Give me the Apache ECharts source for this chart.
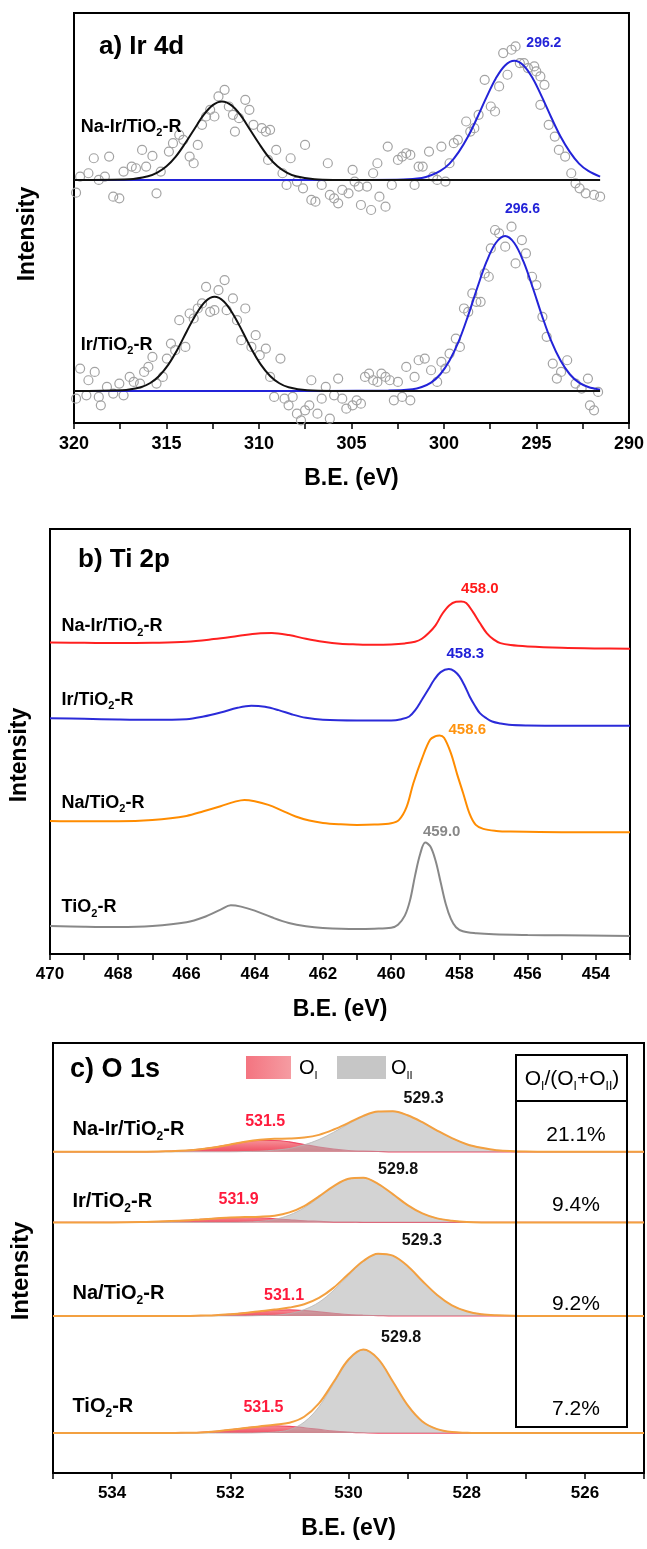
<!DOCTYPE html>
<html>
<head>
<meta charset="utf-8">
<title>XPS Ir 4d / Ti 2p / O 1s</title>
<script src="https://cdn.jsdelivr.net/npm/echarts@6.0.0/dist/echarts.min.js"></script>
<style>
html, body { margin: 0; padding: 0; background: #fff; }
#main { width: 647px; height: 1549px; }
</style>
</head>
<body>
<div id="main"></div>
<script>
// ---------- data: a) Ir 4d (B.E. eV, intensity a.u.) ----------
var irNames = ['Na-Ir/TiO2-R', 'Ir/TiO2-R'];
var irPeaks = ['296.2', '296.6'];

var irRawNaIr = [[319.89,690],[319.67,738],[319.22,748],[318.93,793],[318.66,728],[318.33,738],[318.10,798],[317.88,678],[317.55,673],[317.32,753],[316.88,768],[316.65,763],[316.32,818],[316.10,768],[315.76,800],[315.54,688],[315.31,753],[314.87,813],[314.65,838],[314.31,863],[314.09,848],[313.75,798],[313.53,778],[313.31,833],[313.08,893],[312.86,918],[312.64,938],[312.41,918],[312.19,978],[311.86,998],[311.63,948],[311.41,923],[311.30,873],[311.08,913],[310.74,968],[310.52,938],[310.30,893],[309.85,883],[309.63,873],[309.40,878],[309.51,788],[309.07,818],[308.73,748],[308.51,713],[308.29,793],[307.95,723],[307.62,703],[307.51,833],[307.17,668],[306.95,663],[306.61,713],[306.28,778],[306.17,683],[305.94,673],[305.72,658],[305.50,698],[305.16,688],[304.94,758],[304.83,723],[304.61,708],[304.49,653],[304.16,708],[303.94,638],[303.83,748],[303.60,778],[303.49,678],[303.16,648],[303.04,828],[302.82,713],[302.49,788],[302.26,798],[302.04,808],[301.82,803],[301.59,713],[301.37,768],[301.15,768],[300.81,813],[300.59,738],[300.37,728],[300.14,828],[299.92,723],[299.70,778],[299.47,838],[299.25,848],[298.80,903],[298.58,873],[298.36,883],[298.13,923],[297.80,1028],[297.47,948],[297.24,933],[297.02,1008],[296.80,1108],[296.57,1043],[296.35,1118],[296.13,1128],[295.90,1078],[295.68,1078],[295.46,1063],[295.12,1068],[295.01,1053],[294.79,1038],[294.57,1013],[294.79,953],[294.34,893],[294.01,858],[293.79,818],[293.45,798],[293.12,748],[292.89,718],[292.67,703],[292.34,688],[291.89,683],[291.56,678]];

var irRawIr = [[319.89,73],[319.67,163],[319.33,83],[319.22,128],[318.88,153],[318.66,78],[318.55,53],[318.22,108],[317.88,88],[317.55,118],[317.32,83],[316.99,138],[316.77,123],[316.43,118],[316.21,153],[315.98,168],[315.76,198],[315.54,118],[315.20,138],[314.98,193],[314.76,238],[314.53,218],[314.31,308],[313.98,228],[313.75,328],[313.53,313],[313.31,343],[313.08,358],[312.86,408],[312.64,333],[312.41,338],[312.19,398],[311.86,428],[311.75,338],[311.41,373],[311.19,308],[310.96,248],[310.74,343],[310.41,228],[310.18,263],[309.96,203],[309.63,223],[309.40,138],[309.18,78],[308.84,193],[308.62,73],[308.40,53],[308.18,78],[307.95,28],[307.73,8],[307.51,38],[307.28,53],[307.17,128],[306.84,28],[306.61,73],[306.39,108],[306.17,13],[305.94,83],[305.72,133],[305.50,73],[305.28,43],[304.94,53],[304.72,68],[304.49,58],[304.27,138],[304.05,148],[303.83,128],[303.60,123],[303.38,148],[303.16,138],[302.93,128],[302.71,68],[302.49,123],[302.26,78],[302.04,168],[301.82,68],[301.59,138],[301.37,188],[301.04,193],[300.70,158],[300.37,123],[300.14,183],[299.92,163],[299.70,208],[299.36,253],[299.14,228],[298.92,343],[298.69,333],[298.47,388],[298.25,363],[298.02,363],[297.80,448],[297.58,438],[297.47,523],[297.24,578],[297.02,568],[296.69,528],[296.35,588],[296.13,478],[295.79,548],[295.57,508],[295.24,438],[295.01,413],[294.68,318],[294.45,258],[294.12,178],[293.90,133],[293.67,153],[293.34,188],[292.89,118],[292.56,103],[292.22,133],[292.11,53],[291.89,38],[291.67,93]];

var irFitNaIrBlack = [[320,728],[317,730],[316,739],[315.5,750],[315,769],[314.5,798],[314,837],[313.5,880],[313,922],[312.5,952],[312,963],[311.5,952],[311,922],[310.5,880],[310,837],[309.5,798],[309,769],[308.5,750],[308,739],[307,730],[306,728],[300,728],[295,728],[291.56,728]];
var irFitNaIrBlue = [[320,728],[315,728],[310,728],[304,728],[302.2,729],[301.2,734],[300.7,742],[300.2,755],[299.7,777],[299.2,812],[298.7,858],[298.2,915],[297.7,976],[297.2,1032],[296.7,1071],[296.2,1085],[295.7,1071],[295.2,1032],[294.7,976],[294.2,915],[293.7,858],[293.2,812],[292.7,777],[292.2,755],[291.56,738]];
var irFitIrBlack = [[320,96],[317.4,98],[316.4,107],[315.9,119],[315.4,141],[314.9,175],[314.4,221],[313.9,275],[313.4,326],[312.9,364],[312.4,378],[311.9,364],[311.4,326],[310.9,275],[310.4,221],[309.9,175],[309.4,141],[308.9,119],[308.4,107],[307.4,98],[306,96],[300,96],[295,96],[291.56,96]];
var irFitIrBlue = [[320,96],[315,96],[310,96],[303,97],[301.7,101],[301.2,108],[300.7,121],[300.2,146],[299.7,187],[299.2,245],[298.7,321],[298.2,405],[297.7,483],[297.2,539],[296.7,560],[296.2,539],[295.7,483],[295.2,405],[294.7,321],[294.2,245],[293.7,187],[293.2,146],[292.7,121],[292.2,108],[291.56,100]];

// ---------- data: b) Ti 2p ----------
var tiNames = ['Na-Ir/TiO2-R', 'Ir/TiO2-R', 'Na/TiO2-R', 'TiO2-R'];
var tiPeaks = ['458.0', '458.3', '458.6', '459.0'];
var tiNaIr = [[470,934],[469,933],[468,932],[467,933],[466,936],[465.2,944],[464.5,953],[463.9,961],[463.5,962],[463,956],[462.5,945],[462,936],[461.5,930],[461,928],[460.5,927],[460,928],[459.6,931],[459.3,936],[459.1,945],[458.9,962],[458.7,985],[458.5,1020],[458.3,1045],[458.1,1056],[457.95,1057],[457.8,1052],[457.6,1025],[457.4,992],[457.2,962],[457.0,943],[456.8,932],[456.5,926],[456,922],[455,918],[454,916],[453,915]];
var tiIr = [[470,707],[469,705],[468,703],[467,702],[466,704],[465.5,712],[465,724],[464.5,738],[464.1,744],[463.7,741],[463.3,731],[462.9,718],[462.5,708],[462,702],[461,700],[460,700],[459.7,704],[459.47,712],[459.3,730],[459.1,762],[458.9,795],[458.74,822],[458.55,845],[458.31,854],[458.15,848],[458.0,832],[457.85,805],[457.7,772],[457.55,745],[457.4,722],[457.2,706],[457.04,697],[456.8,691],[456.55,687],[456,685],[455,684],[453,684]];
var tiNa = [[470,399],[469,398],[468,398],[467,402],[466,414],[465.5,428],[465,443],[464.6,456],[464.3,462],[464,458],[463.6,447],[463.2,430],[462.8,412],[462.4,400],[462,393],[461.5,389],[461,387],[460.5,388],[460,392],[459.77,402],[459.55,440],[459.35,512],[459.1,585],[458.86,642],[458.7,653],[458.58,655],[458.45,648],[458.25,602],[458.07,540],[457.89,482],[457.7,420],[457.52,387],[457.3,375],[456.92,369],[456.5,367],[455,365],[453,365]];
var tiTi = [[470,84],[469,82],[468,81],[467,84],[466,95],[465.5,110],[465,133],[464.7,146],[464.4,142],[464,130],[463.5,110],[463,93],[462.5,83],[462,78],[461,75],[460.5,76],[460,79],[459.8,88],[459.6,115],[459.45,160],[459.3,235],[459.15,300],[459.0,334],[458.85,322],[458.7,280],[458.55,215],[458.4,150],[458.25,105],[458.1,80],[457.9,68],[457.5,62],[457,59],[456,57],[455,56],[453,54]];

// ---------- data: c) O 1s ----------
var oNames = ['Na-Ir/TiO2-R', 'Ir/TiO2-R', 'Na/TiO2-R', 'TiO2-R'];
var oPeakI = ['531.5', '531.9', '531.1', '531.5'];
var oPeakII = ['529.3', '529.8', '529.3', '529.8'];
var oRatio = ['21.1%', '9.4%', '9.2%', '7.2%'];
var oBase = [965, 753, 472, 120];
var oX = [535,534,533.5,533,532.75,532.5,532.25,532,531.75,531.5,531.25,531,530.75,530.5,530.25,530,529.75,529.5,529.25,529,528.75,528.5,528.25,528,527.75,527.5,527,526,525];
var oI = [
  [965,965,965,967,969,973,979,987,995,999,999,995,987,979,973,969,967,966,965,965,965,965,965,965,965,965,965,965,965],
  [753,753,754,757,759,762,765,767,768,767,764,761,758,756,754,754,753,753,753,753,753,753,753,753,753,753,753,753,753],
  [472,472,472,472,472,473,474,477,481,485,489,490,488,484,480,476,474,473,472,472,472,472,472,472,472,472,472,472,472],
  [120,120,120,120,121,122,125,130,135,140,142,140,136,131,126,123,121,120,120,120,120,120,120,120,120,120,120,120,120]
];
var oII = [
  [965,965,965,965,965,965,965,965,966,967,970,975,986,1002,1024,1049,1071,1086,1087,1075,1054,1029,1006,988,977,970,966,965,965],
  [753,753,753,753,753,753,753,753,754,756,762,775,797,828,861,883,887,869,838,805,780,765,758,754,753,753,753,753,753],
  [472,472,472,472,472,472,472,472,472,473,474,479,491,513,549,593,635,658,653,622,577,535,504,486,477,474,472,472,472],
  [120,120,120,120,120,120,120,120,120,121,123,130,153,199,269,338,370,343,275,204,155,132,123,121,120,120,120,120,120]
];
var oEnv = [
  [965,965,965,967,969,973,979,987,995,1001,1004,1005,1008,1016,1032,1052,1073,1086,1087,1075,1054,1029,1006,988,977,970,966,965,965],
  [753,753,754,757,759,762,765,768,769,770,773,783,802,831,862,884,887,869,838,805,780,765,758,754,753,753,753,753,753],
  [472,472,472,472,472,473,474,477,481,486,491,497,507,526,557,598,637,659,653,622,577,535,504,486,477,474,472,472,472],
  [120,120,120,120,121,122,125,130,135,140,145,151,169,209,274,341,371,343,275,204,155,132,123,121,120,120,120,120,120]
];

// ---------- layout ----------
var FONT = '"Liberation Sans", Arial, sans-serif';
var anchors = {
  irNames: [[319.64, 887], [319.64, 234]],
  irPeaks: [[294.6, 1139], [295.76, 641]],
  tiNames: [[469.66, 982], [469.66, 762], [469.66, 454], [469.66, 140]],
  tiPeaks: [[457.4, 1094], [457.83, 900], [457.77, 672], [458.52, 367]],
  oNames: [[534.67, 1032], [534.67, 815], [534.67, 538], [534.67, 200]],
  oPeakI: [[531.41, 1055], [531.86, 820], [531.09, 532], [531.44, 198]],
  oPeakII: [[528.73, 1125], [529.16, 912], [528.76, 698], [529.11, 408]]
};
var tiColors = ['#ff2020', '#2b2bd9', '#ff8c00', '#888888'];
var tiLabelColors = ['#ff1a1a', '#2020d8', '#ff9410', '#888888'];

function sub(s) { return s.replace('TiO2', 'TiO{s|2}'); }
function pairs(xs, ys) { return xs.map(function (x, i) { return [x, ys[i]]; }); }

function textSeries(idx, texts, at, size, color, position) {
  return {
    type: 'scatter', xAxisIndex: idx, yAxisIndex: idx, symbolSize: 0, silent: true, z: 20,
    itemStyle: { opacity: 1 },
    data: texts.map(function (t, i) {
      var c = Array.isArray(color) ? color[i] : color;
      return { value: at[i], label: { formatter: sub(t), color: c, rich: { s: { fontSize: Math.round(size * 0.6), fontWeight: 'bold', fontFamily: FONT, color: c, verticalAlign: 'bottom', lineHeight: Math.round(size * 0.6) } } } };
    }),
    label: { show: true, position: position, distance: 0, opacity: 1, fontFamily: FONT, fontWeight: 'bold', fontSize: size, lineHeight: size + 6 }
  };
}

function xAxis(idx, min, max, interval, every) {
  return {
    type: 'value', gridIndex: idx, min: min, max: max, interval: interval, inverse: true,
    name: 'B.E. (eV)', nameLocation: 'middle', nameGap: 44,
    nameTextStyle: { fontFamily: FONT, fontWeight: 'bold', fontSize: 23, color: '#000' },
    axisLine: { lineStyle: { color: '#000', width: 2 } },
    axisTick: { length: 6, lineStyle: { color: '#000', width: 1.5 } },
    axisLabel: { margin: 12, fontFamily: FONT, fontWeight: 'bold', fontSize: idx === 0 ? 18 : 17, color: '#000', showMinLabel: true, showMaxLabel: true,
      formatter: function (v) { return Math.abs(v % every) < 1e-6 ? String(v) : ''; } },
    splitLine: { show: false }
  };
}
function yAxis(idx, max) {
  return { type: 'value', gridIndex: idx, min: 0, max: max,
    axisLine: { show: true, lineStyle: { color: '#000', width: 2 } },
    axisTick: { show: false }, axisLabel: { show: false }, splitLine: { show: false } };
}
function line(idx, data, color, width, z) {
  return { type: 'line', xAxisIndex: idx, yAxisIndex: idx, data: data, showSymbol: false, smooth: 0.35,
    lineStyle: { color: color, width: width }, z: z || 3, silent: true };
}
function raw(data) {
  return { type: 'scatter', xAxisIndex: 0, yAxisIndex: 0, data: data, symbol: 'circle', symbolSize: 9, silent: true, z: 2,
    itemStyle: { color: 'rgba(255,255,255,0)', borderColor: '#a3a3a3', borderWidth: 1.2, opacity: 1 } };
}

var series = [
  raw(irRawNaIr), raw(irRawIr),
  line(0, irFitNaIrBlue, '#2323d8', 2, 3), line(0, irFitIrBlue, '#2323d8', 2, 3),
  line(0, irFitNaIrBlack, '#111', 2, 4), line(0, irFitIrBlack, '#111', 2, 4),
  textSeries(0, irNames, anchors.irNames, 18, '#000', 'right'),
  textSeries(0, irPeaks, anchors.irPeaks, 14, '#2323d8', 'inside')
];
[tiNaIr, tiIr, tiNa, tiTi].forEach(function (d, i) { series.push(line(1, d, tiColors[i], 2, 3)); });
series.push(textSeries(1, tiNames, anchors.tiNames, 18, '#000', 'right'));
series.push(textSeries(1, tiPeaks, anchors.tiPeaks, 15, tiLabelColors, 'inside'));

for (var k = 0; k < 4; k++) {
  series.push({ type: 'line', xAxisIndex: 2, yAxisIndex: 2, data: pairs(oX, oI[k]), showSymbol: false, smooth: 0.35, silent: true, z: 2,
    lineStyle: { color: '#f04a66', width: 1.2 },
    areaStyle: { origin: oBase[k], opacity: 0.9, color: new echarts.graphic.LinearGradient(0, 0, 0, 1, [{ offset: 0, color: '#f5848c' }, { offset: 1, color: '#ee3a50' }]) } });
  series.push({ type: 'line', xAxisIndex: 2, yAxisIndex: 2, data: pairs(oX, oII[k]), showSymbol: false, smooth: 0.35, silent: true, z: 3,
    lineStyle: { color: '#b5b5b5', width: 0.8 }, areaStyle: { origin: oBase[k], color: 'rgba(178,178,178,0.82)' } });
  series.push(line(2, pairs(oX, oEnv[k]), '#f3a040', 2, 4));
}
series.push(textSeries(2, oNames, anchors.oNames, 20, '#000', 'right'));
series.push(textSeries(2, oPeakI, anchors.oPeakI, 16, '#ff1a3c', 'inside'));
series.push(textSeries(2, oPeakII, anchors.oPeakII, 16, '#111', 'inside'));

var subRich = function (size) { return { s: { fontSize: Math.round(size * 0.55), fontFamily: FONT, verticalAlign: 'bottom', lineHeight: Math.round(size * 0.55), fill: '#000' } }; };
function gText(x, y, text, size, weight, align, rot) {
  return { type: 'text', x: x, y: y, rotation: rot || 0, z: 30, silent: true,
    style: { text: text, fill: '#000', fontSize: size, fontWeight: weight, fontFamily: FONT, lineHeight: size + 6,
      align: align, textAlign: align, verticalAlign: 'middle', textVerticalAlign: 'middle', rich: subRich(size) } };
}

var graphics = [
  gText(99, 47, 'a) Ir 4d', 26, 'bold', 'left'),
  gText(78, 560, 'b) Ti 2p', 26, 'bold', 'left'),
  gText(70, 1070, 'c) O 1s', 27, 'bold', 'left'),
  gText(28, 234, 'Intensity', 23, 'bold', 'center', Math.PI / 2),
  gText(20, 755, 'Intensity', 23, 'bold', 'center', Math.PI / 2),
  gText(21, 1271, 'Intensity', 24, 'bold', 'center', Math.PI / 2),
  { type: 'rect', shape: { x: 246, y: 1056, width: 45, height: 23 }, z: 30,
    style: { fill: new echarts.graphic.LinearGradient(0, 0, 1, 0, [{ offset: 0, color: '#f47480' }, { offset: 1, color: '#f59ca2' }]) } },
  gText(299, 1068, 'O{s|I}', 20, 'normal', 'left'),
  { type: 'rect', shape: { x: 337, y: 1056, width: 49, height: 23 }, style: { fill: '#c6c6c6' }, z: 30 },
  gText(391, 1068, 'O{s|II}', 20, 'normal', 'left'),
  { type: 'rect', shape: { x: 516, y: 1055, width: 111, height: 372 }, style: { fill: 'none', stroke: '#000', lineWidth: 2 }, z: 30 },
  { type: 'line', shape: { x1: 516, y1: 1101, x2: 627, y2: 1101 }, style: { stroke: '#000', lineWidth: 2 }, z: 30 },
  gText(572, 1079, 'O{s|I}/(O{s|I}+O{s|II})', 21, 'normal', 'center')
];
var ratioY = [1135, 1205, 1304, 1409];
oRatio.forEach(function (r, i) { graphics.push(gText(576, ratioY[i], r, 21, 'normal', 'center')); });

var chart = echarts.init(document.getElementById('main'));
chart.setOption({
  animation: false,
  backgroundColor: '#fff',
  grid: [
    { left: 74, right: 17, top: 13, height: 410, show: true, borderColor: '#000', borderWidth: 2 },
    { left: 50, right: 17, top: 529, height: 425, show: true, borderColor: '#000', borderWidth: 2 },
    { left: 53, right: 2, top: 1043, height: 430, show: true, borderColor: '#000', borderWidth: 2 }
  ],
  xAxis: [xAxis(0, 290, 320, 2.5, 5), xAxis(1, 453, 470, 1, 2), xAxis(2, 525, 535, 1, 2)],
  yAxis: [yAxis(0, 1228), yAxis(1, 1274), yAxis(2, 1292)],
  series: series,
  graphic: graphics
});
</script>
</body>
</html>
